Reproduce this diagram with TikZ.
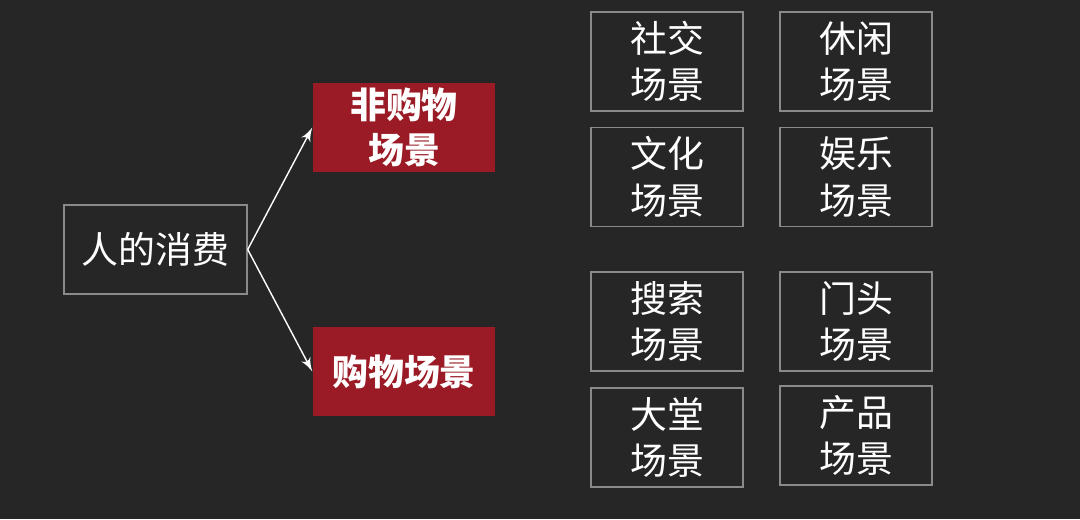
\documentclass[tikz,border=0pt]{standalone}
\usepackage{fontspec}
\newfontfamily\cjk{Noto Sans CJK SC}
\usetikzlibrary{arrows,positioning}
\definecolor{bgdark}{HTML}{262626}
\definecolor{sceneRed}{HTML}{9A1B25}
\definecolor{frameGray}{HTML}{8A8A8A}
\begin{document}
\begin{tikzpicture}[>=latex']
        \tikzset{block/.style= {draw=frameGray, line width=0.4pt, rectangle, align=center, text=white,
                font=\cjk\fontsize{10.5}{13.2}\selectfont, minimum width=1.52cm, minimum height=0.99cm, inner sep=0pt},
        rblock/.style= {fill=sceneRed, rectangle, align=center, text=white,
                font=\cjk\bfseries\fontsize{10.2}{12.8}\selectfont, minimum width=1.82cm, minimum height=0.89cm, inner sep=0pt},
        link/.style={draw=white, fill=white, ->, line width=0.4pt},
        }
        \fill[bgdark] (0,0) rectangle (10.8,5.19);
        \useasboundingbox (0,0) rectangle (10.8,5.19);
        \node [block, minimum width=1.83cm, minimum height=0.89cm] (consume) at (1.555,2.695) {人的消费};
        \node [rblock] (nonshop) at (4.04,3.915) {非购物\\场景};
        \node [rblock] (shop) at (4.04,1.475) {购物场景};
        \node [block] (social) at (6.67,4.575) {社交\\场景};
        \node [block] (leisure) at (8.56,4.575) {休闲\\场景};
        \node [block] (culture) at (6.67,3.42) {文化\\场景};
        \node [block] (fun) at (8.56,3.42) {娱乐\\场景};
        \node [block] (search) at (6.67,1.975) {搜索\\场景};
        \node [block] (door) at (8.56,1.975) {门头\\场景};
        \node [block] (hall) at (6.67,0.815) {大堂\\场景};
        \node [block] (product) at (8.56,0.835) {产品\\场景};

%% paths
        \draw[link] (consume.east) -- (nonshop.west);
        \draw[link] (consume.east) -- (shop.west);
    \end{tikzpicture}
\end{document}
